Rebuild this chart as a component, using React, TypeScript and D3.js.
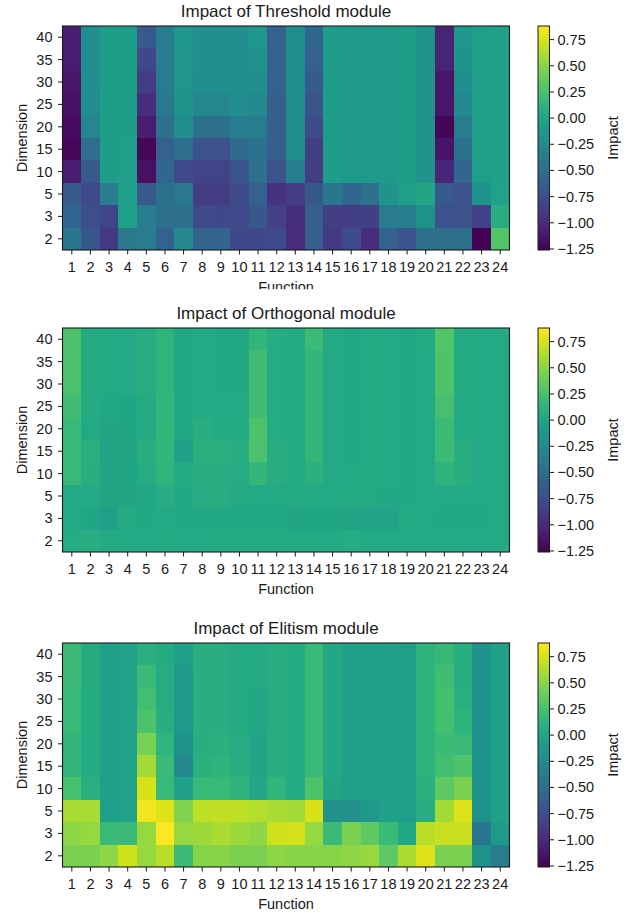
import * as d3 from "d3";

// categories
const functions = ["1", "2", "3", "4", "5", "6", "7", "8", "9", "10", "11", "12",
  "13", "14", "15", "16", "17", "18", "19", "20", "21", "22", "23", "24"];
const dims = ["40", "35", "30", "25", "20", "15", "10", "5", "3", "2"];
const cbTicks = [0.75, 0.5, 0.25, 0, -0.25, -0.5, -0.75, -1.0, -1.25];
const colorDomain = [-1.26, 0.88];

// impact values, one row per dimension (top to bottom), one entry per function
const threshold = [
  [-1.08, -0.20, -0.08, -0.08, -0.67, -0.36, -0.12, -0.20, -0.20, -0.20, -0.12, -0.60, -0.22, -0.56, -0.08, -0.10, -0.10, -0.10, -0.08, -0.16, -1.05, -0.12, -0.06, -0.04],
  [-1.10, -0.20, -0.08, -0.08, -0.80, -0.38, -0.14, -0.20, -0.20, -0.20, -0.18, -0.60, -0.22, -0.60, -0.08, -0.10, -0.10, -0.10, -0.08, -0.16, -1.05, -0.15, -0.06, -0.04],
  [-1.13, -0.20, -0.08, -0.08, -0.88, -0.38, -0.14, -0.22, -0.22, -0.20, -0.20, -0.60, -0.22, -0.65, -0.08, -0.10, -0.10, -0.10, -0.08, -0.16, -1.13, -0.20, -0.06, -0.04],
  [-1.16, -0.21, -0.08, -0.08, -0.98, -0.40, -0.17, -0.28, -0.28, -0.22, -0.25, -0.62, -0.22, -0.70, -0.08, -0.10, -0.10, -0.10, -0.08, -0.16, -1.13, -0.25, -0.06, -0.04],
  [-1.20, -0.28, -0.08, -0.08, -1.10, -0.47, -0.22, -0.48, -0.48, -0.35, -0.38, -0.62, -0.22, -0.78, -0.08, -0.10, -0.10, -0.10, -0.08, -0.16, -1.23, -0.38, -0.06, -0.04],
  [-1.22, -0.50, -0.08, -0.07, -1.22, -0.60, -0.48, -0.72, -0.72, -0.53, -0.45, -0.62, -0.22, -0.88, -0.08, -0.10, -0.10, -0.10, -0.08, -0.16, -1.15, -0.46, -0.06, -0.04],
  [-1.08, -0.67, -0.08, -0.07, -1.17, -0.55, -0.78, -0.82, -0.82, -0.70, -0.47, -0.72, -0.35, -0.88, -0.08, -0.10, -0.10, -0.10, -0.08, -0.16, -1.03, -0.56, -0.06, -0.04],
  [-0.65, -0.78, -0.36, -0.06, -0.66, -0.48, -0.40, -0.88, -0.88, -0.77, -0.60, -0.95, -0.88, -0.68, -0.42, -0.56, -0.45, -0.15, -0.06, 0.00, -0.67, -0.72, -0.17, -0.03],
  [-0.55, -0.75, -0.82, -0.06, -0.38, -0.48, -0.48, -0.78, -0.80, -0.78, -0.68, -0.85, -0.98, -0.62, -0.88, -0.86, -0.86, -0.38, -0.35, -0.17, -0.72, -0.72, -0.84, 0.08],
  [-0.42, -0.68, -0.90, -0.40, -0.38, -0.60, -0.25, -0.58, -0.58, -0.80, -0.80, -0.78, -1.00, -0.62, -0.90, -0.78, -0.98, -0.60, -0.70, -0.48, -0.48, -0.48, -1.25, 0.30],
];

const orthogonal = [
  [0.27, 0.05, 0.03, 0.03, 0.07, 0.13, 0.02, 0.03, 0.02, 0.02, 0.14, 0.06, 0.05, 0.20, 0.03, 0.02, 0.04, 0.03, 0.02, 0.05, 0.30, 0.04, 0.03, 0.03],
  [0.27, 0.05, 0.03, 0.03, 0.07, 0.13, 0.02, 0.03, 0.02, 0.02, 0.22, 0.06, 0.05, 0.16, 0.03, 0.02, 0.04, 0.03, 0.02, 0.03, 0.28, 0.04, 0.03, 0.03],
  [0.27, 0.05, 0.03, 0.03, 0.07, 0.13, 0.02, 0.03, 0.02, 0.02, 0.22, 0.06, 0.05, 0.16, 0.03, 0.02, 0.04, 0.03, 0.02, 0.03, 0.28, 0.04, 0.03, 0.03],
  [0.22, 0.05, 0.02, 0.01, 0.05, 0.14, 0.02, 0.03, 0.03, 0.03, 0.22, 0.06, 0.05, 0.16, 0.03, 0.02, 0.04, 0.03, 0.02, 0.03, 0.25, 0.04, 0.03, 0.03],
  [0.18, 0.04, 0.00, 0.01, 0.03, 0.15, 0.02, 0.08, 0.05, 0.04, 0.27, 0.06, 0.05, 0.16, 0.03, 0.02, 0.04, 0.03, 0.02, 0.03, 0.20, 0.04, 0.03, 0.03],
  [0.18, 0.10, 0.00, 0.01, 0.08, 0.15, -0.05, 0.10, 0.10, 0.08, 0.27, 0.07, 0.05, 0.16, 0.03, 0.02, 0.04, 0.03, 0.02, 0.03, 0.20, 0.08, 0.03, 0.03],
  [0.18, 0.09, 0.00, 0.01, 0.06, 0.13, 0.05, 0.08, 0.08, 0.06, 0.16, 0.07, 0.05, 0.11, 0.03, 0.03, 0.04, 0.03, 0.02, 0.03, 0.12, 0.09, 0.03, 0.03],
  [0.03, 0.03, 0.00, 0.00, 0.02, 0.07, 0.02, 0.07, 0.07, 0.04, 0.03, 0.04, 0.04, 0.04, 0.03, 0.04, 0.04, 0.02, 0.02, 0.03, 0.03, 0.03, 0.03, 0.03],
  [0.03, 0.01, -0.06, 0.05, 0.02, 0.03, 0.02, 0.02, 0.02, 0.02, 0.02, 0.02, 0.00, 0.01, 0.01, 0.00, -0.02, -0.02, 0.04, 0.03, 0.02, 0.02, 0.02, 0.03],
  [0.06, 0.08, 0.04, 0.03, 0.03, 0.04, 0.03, 0.03, 0.04, 0.05, 0.05, 0.04, 0.04, 0.04, 0.03, 0.06, 0.03, 0.03, 0.03, 0.03, 0.03, 0.03, 0.03, 0.03],
];

const elitism = [
  [0.19, 0.05, -0.05, -0.03, 0.10, 0.05, -0.05, 0.08, 0.08, 0.05, 0.04, 0.07, 0.05, 0.18, 0.02, -0.05, -0.04, -0.04, -0.06, 0.12, 0.17, 0.08, -0.16, -0.05],
  [0.19, 0.05, -0.05, -0.03, 0.19, 0.06, -0.10, 0.08, 0.08, 0.05, 0.04, 0.07, 0.05, 0.18, 0.02, -0.05, -0.04, -0.04, -0.06, 0.12, 0.22, 0.08, -0.16, -0.05],
  [0.18, 0.05, -0.05, -0.03, 0.23, 0.06, -0.10, 0.08, 0.08, 0.05, 0.02, 0.07, 0.05, 0.18, 0.02, -0.05, -0.04, -0.04, -0.06, 0.12, 0.24, 0.10, -0.16, -0.05],
  [0.18, 0.05, -0.05, -0.03, 0.27, 0.08, -0.10, 0.08, 0.08, 0.05, 0.02, 0.07, 0.05, 0.18, 0.02, -0.05, -0.04, -0.04, -0.06, 0.12, 0.24, 0.12, -0.16, -0.05],
  [0.14, 0.05, -0.05, -0.03, 0.44, 0.13, -0.17, 0.08, 0.10, 0.06, 0.00, 0.07, 0.05, 0.18, 0.02, -0.05, -0.04, -0.04, -0.06, 0.12, 0.20, 0.18, -0.16, -0.05],
  [0.14, 0.05, -0.05, -0.03, 0.58, 0.19, -0.25, 0.11, 0.12, 0.08, 0.00, 0.07, 0.05, 0.18, 0.02, -0.05, -0.04, -0.04, -0.06, 0.12, 0.23, 0.28, -0.16, -0.05],
  [0.26, 0.10, -0.05, -0.03, 0.75, 0.18, -0.05, 0.18, 0.18, 0.12, 0.02, 0.14, 0.05, 0.27, 0.00, -0.05, -0.04, -0.04, -0.06, 0.10, 0.35, 0.45, -0.16, -0.05],
  [0.60, 0.60, -0.07, -0.03, 0.83, 0.77, 0.47, 0.67, 0.68, 0.67, 0.64, 0.60, 0.58, 0.75, -0.19, -0.19, -0.10, -0.05, -0.06, 0.08, 0.58, 0.77, -0.17, -0.05],
  [0.52, 0.54, 0.19, 0.19, 0.54, 0.87, 0.54, 0.57, 0.61, 0.57, 0.52, 0.72, 0.74, 0.54, 0.19, 0.45, 0.35, 0.19, 0.02, 0.66, 0.70, 0.70, -0.42, -0.10],
  [0.45, 0.45, 0.52, 0.72, 0.54, 0.66, 0.19, 0.49, 0.49, 0.45, 0.45, 0.52, 0.49, 0.49, 0.49, 0.52, 0.55, 0.35, 0.62, 0.77, 0.45, 0.45, -0.17, -0.36],
];

const panels = [
  { title: "Impact of Threshold module", values: threshold, top: 26, clipLabel: true },
  { title: "Impact of Orthogonal module", values: orthogonal, top: 328, clipLabel: false },
  { title: "Impact of Elitism module", values: elitism, top: 643, clipLabel: false },
];

const FONT = "'Liberation Sans', Arial, Helvetica, sans-serif";
const INK = "#1a1a1a";
const axX = 62.5, axW = 447, axH = 224;
const cbX = 538, cbW = 11.5;

const color = d3.scaleSequential(d3.interpolateViridis).domain(colorDomain);
const fmt = d3.format(".2f");

const Heatmap = ({ title, values, top, clipLabel, idx }) => {
  const x = d3.scaleBand().domain(functions).range([axX, axX + axW]);
  const y = d3.scaleBand().domain(dims).range([top, top + axH]);
  const cb = d3.scaleLinear().domain(colorDomain).range([top + axH, top]);
  const bottom = top + axH;
  const gradId = `grad${idx}`;
  const stops = d3.range(0, 1.0001, 0.05);

  return (
    <g>
      <text x={axX + axW / 2} y={top - 9.5} textAnchor="middle" fontSize={17} fill={INK}>{title}</text>
      <g shapeRendering="crispEdges">
        {values.map((row, i) =>
          row.map((v, j) => {
            const x0 = x(functions[j]), y0 = y(dims[i]);
            const lastCol = j === functions.length - 1, lastRow = i === dims.length - 1;
            return (
              <rect key={`${i}-${j}`} x={x0} y={y0}
                width={x.bandwidth() + (lastCol ? 0 : 1)} height={y.bandwidth() + (lastRow ? 0 : 1)}
                fill={color(v)} />
            );
          })
        )}
      </g>
      <rect x={axX} y={top} width={axW} height={axH} fill="none" stroke={INK} strokeWidth={1.1} />
      {functions.map(f => (
        <g key={f}>
          <line x1={x(f) + x.bandwidth() / 2} x2={x(f) + x.bandwidth() / 2} y1={bottom} y2={bottom + 4.5} stroke={INK} />
          <text x={x(f) + x.bandwidth() / 2} y={bottom + 21.5} textAnchor="middle" fontSize={14.5} fill={INK}>{f}</text>
        </g>
      ))}
      {dims.map(d => (
        <g key={d}>
          <line x1={axX - 4.5} x2={axX} y1={y(d) + y.bandwidth() / 2} y2={y(d) + y.bandwidth() / 2} stroke={INK} />
          <text x={52.5} y={y(d) + y.bandwidth() / 2 + 5} textAnchor="end" fontSize={14.5} fill={INK}>{d}</text>
        </g>
      ))}
      <text transform={`translate(26.5,${top + axH / 2}) rotate(-90)`} textAnchor="middle" fontSize={14.5} fill={INK}>Dimension</text>
      {clipLabel && (
        <clipPath id={`clip${idx}`}>
          <rect x={0} y={0} width={631} height={bottom + 39.3} />
        </clipPath>
      )}
      <text x={axX + axW / 2} y={bottom + 41.5} textAnchor="middle" fontSize={14.5} fill={INK}
        clipPath={clipLabel ? `url(#clip${idx})` : undefined}>Function</text>

      <defs>
        <linearGradient id={gradId} x1="0" y1="1" x2="0" y2="0">
          {stops.map(t => (
            <stop key={t} offset={t} stopColor={d3.interpolateViridis(t)} />
          ))}
        </linearGradient>
      </defs>
      <rect x={cbX} y={top} width={cbW} height={axH} fill={`url(#${gradId})`} stroke={INK} strokeWidth={1} />
      {cbTicks.map(t => (
        <g key={t}>
          <line x1={cbX + cbW} x2={cbX + cbW + 4.5} y1={cb(t)} y2={cb(t)} stroke={INK} />
          <text x={cbX + cbW + 8} y={cb(t) + 5} fontSize={14.5} fill={INK}>{fmt(t)}</text>
        </g>
      ))}
      <text transform={`translate(617.5,${top + axH / 2}) rotate(-90)`} textAnchor="middle" fontSize={14.5} fill={INK}>Impact</text>
    </g>
  );
};

export default function App() {
  return (
    <svg width={631} height={913} style={{ position: "absolute", left: 0, top: 0, background: "#fff" }}
      fontFamily={FONT}>
      <rect width={631} height={913} fill="#fff" />
      {panels.map((p, i) => (
        <Heatmap key={p.title} {...p} idx={i} />
      ))}
    </svg>
  );
}
